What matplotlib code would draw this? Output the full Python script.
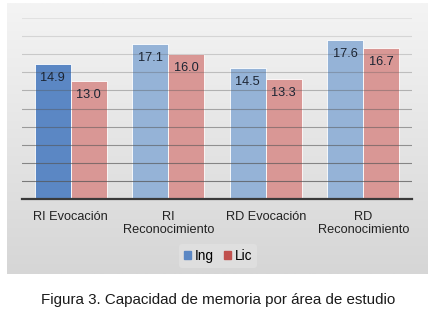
"""Figura 3 - capacidad de memoria por área de estudio."""
import matplotlib
matplotlib.use("Agg")
import matplotlib.pyplot as plt
import numpy as np
from matplotlib.patches import Patch

plt.rcParams.update({
    "font.family": ["Liberation Sans", "DejaVu Sans"],
    "font.size": 9,
})

categories = ["RI Evocación", "RI\nReconocimiento", "RD Evocación", "RD\nReconocimiento"]
ing = [14.9, 17.1, 14.5, 17.6]
lic = [13.0, 16.0, 13.3, 16.7]
series_names = ["Ing", "Lic"]

ing_colors = ["#5b87c4", "#95b3d7", "#95b3d7", "#95b3d7"]
lic_color = "#d99795"

fig = plt.figure(figsize=(4.31, 3.11), dpi=100)
fig.patch.set_facecolor("white")

# ── gray gradient panel behind the chart ────────────────────────────────────
bg = fig.add_axes([7 / 431, 1 - 274 / 311, 421 / 431, 271 / 311], zorder=0)
grad = np.linspace(0, 1, 256).reshape(-1, 1)
bg.imshow(grad, aspect="auto", cmap=matplotlib.colors.LinearSegmentedColormap.from_list(
    "g", ["#f4f4f4", "#d6d6d6"]), extent=[0, 1, 0, 1], origin="upper")
bg.set_axis_off()

ax = fig.add_axes([22 / 431, 1 - 199 / 311, 390 / 431, 181 / 311], zorder=1)
ax.patch.set_alpha(0)

x = np.arange(len(categories))
w = 0.37
b1 = ax.bar(x - w / 2, ing, w, color=ing_colors, edgecolor="white", linewidth=0.6,
            zorder=2, label=series_names[0])
b2 = ax.bar(x + w / 2, lic, w, color=lic_color, edgecolor="white", linewidth=0.6,
            zorder=2, label=series_names[1])

for bars, vals in ((b1, ing), (b2, lic)):
    for bar, v in zip(bars, vals):
        ax.annotate(f"{v:.1f}", xy=(bar.get_x() + bar.get_width() / 2, v),
                    xytext=(0, -14), textcoords="offset pixels",
                    ha="center", va="center", fontsize=9.2, color="#1c2533", zorder=4)

ax.set_ylim(0, 20)
ax.set_xlim(-0.5, len(categories) - 0.5)
ax.tick_params(axis="y", left=False, labelleft=False)
ax.tick_params(axis="x", bottom=False, pad=5, labelsize=9.2, colors="#222222")
ax.set_xticks(x)
ax.set_xticklabels(categories, linespacing=1.15)

# gridlines drawn over the bars, fading towards the top
for y in np.arange(2, 21, 2):
    a = 0.8 - 0.7 * (y / 20)
    ax.axhline(y, color="#555555", linewidth=0.8, alpha=a, zorder=3)

for s in ["top", "right", "left"]:
    ax.spines[s].set_visible(False)
ax.spines["bottom"].set_color("#3a3a3a")
ax.spines["bottom"].set_linewidth(1.6)
ax.spines["bottom"].set_zorder(5)

handles = [Patch(color="#5b87c4"), Patch(color="#c0504d")]
leg = fig.legend(handles, series_names, loc="center", bbox_to_anchor=(218 / 431, 1 - 256 / 311),
                 ncol=2, frameon=True, fontsize=9.8, handlelength=0.5, handleheight=0.5,
                 handletextpad=0.25, columnspacing=0.8, borderpad=0.35)
leg.get_frame().set_facecolor("#e2e2e2")
leg.get_frame().set_edgecolor("none")
leg.get_frame().set_alpha(0.7)
leg.set_zorder(6)

fig.text(218 / 431, 1 - 300 / 311, "Figura 3. Capacidad de memoria por área de estudio",
         ha="center", va="center", fontsize=10.9, color="#1a1a1a")

fig.savefig("out.png", dpi=100)
